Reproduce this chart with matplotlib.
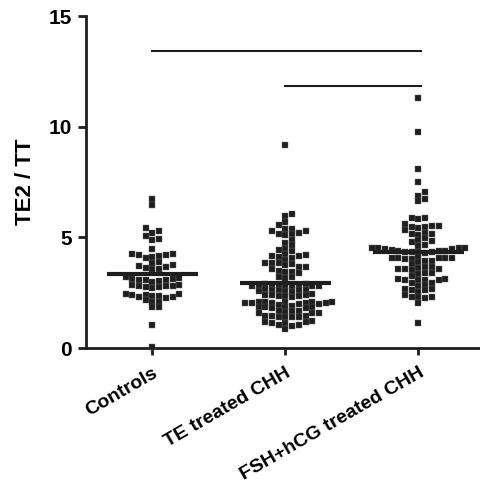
import numpy as np
import matplotlib
matplotlib.use("Agg")
import matplotlib.pyplot as plt
import matplotlib.transforms as mtransforms

plt.rcParams['font.family'] = ['Liberation Sans', 'DejaVu Sans']
plt.rcParams['font.weight'] = 'bold'

# values (TE2 / TT ratio per subject)
groups = ['Controls', 'TE treated CHH', 'FSH+hCG treated CHH']

controls = [6.75, 6.45, 5.42, 5.27, 5.20, 5.04, 4.92, 4.86, 4.47,
            4.26, 4.22, 4.10, 4.06, 4.15, 4.20, 4.26,
            3.87, 3.76, 3.66, 3.56, 3.56, 3.61, 3.72, 3.84,
            3.11, 3.05, 3.02, 3.00, 3.20, 3.11, 3.05, 3.05, 3.16,
            2.78, 2.70, 2.78, 2.85, 2.85, 2.75, 2.75, 2.82,
            2.40, 2.40, 2.32, 2.25, 2.30, 2.36, 2.36, 2.43, 2.43,
            2.10, 2.17, 2.10, 1.84, 1.84, 1.04, 0.06]

te_treated = [9.15, 6.06, 5.95, 5.69, 5.57, 5.39, 5.30, 5.39, 5.30, 5.20, 5.15, 5.09, 5.15,
              4.89, 4.74, 4.49, 4.39, 4.44, 4.64, 4.24, 4.14, 4.06, 4.09, 4.14, 4.21, 3.99,
              3.84, 3.84, 3.73, 3.79, 3.84, 3.64, 3.58, 3.64, 3.46, 3.43, 3.38, 3.43,
              3.23, 3.16, 3.19,
              2.90, 2.85, 2.78, 2.82, 2.80, 2.85, 2.78, 2.82, 2.88, 2.80, 2.85,
              2.62, 2.58, 2.66, 2.60, 2.55, 2.62, 2.58, 2.64,
              2.36, 2.40, 2.32, 2.38, 2.45, 2.34, 2.40, 2.36,
              2.10, 2.03, 2.05, 1.98, 2.08, 2.03, 1.95, 2.06, 2.10, 2.00, 2.04, 2.08, 2.02,
              1.84, 1.87, 1.80, 1.84, 1.88, 1.82, 1.86,
              1.65, 1.60, 1.57, 1.62, 1.65, 1.69, 1.58,
              1.42, 1.45, 1.40, 1.44, 1.42, 1.38, 1.45,
              1.19, 1.15, 1.21, 1.17, 1.12,
              1.04, 1.00, 1.06, 0.85]

fsh_hcg = [11.3, 9.75, 8.10, 7.49, 7.04, 6.89, 6.74, 6.63, 5.88, 5.83, 5.88,
           5.62, 5.50, 5.47, 5.42, 5.47, 5.53,
           5.31, 5.17, 5.12, 5.20, 5.17,
           4.97, 4.77, 4.82, 4.86,
           4.62, 4.52, 4.47, 4.47, 4.52, 4.52, 4.52, 4.67, 4.41,
           4.35, 4.38, 4.33, 4.30, 4.36, 4.32, 4.34, 4.37,
           4.06, 4.08, 4.04, 4.06, 4.10, 4.03, 4.05, 4.08,
           3.81, 3.87, 3.91, 3.95,
           3.68, 3.61, 3.56, 3.53, 3.56, 3.56, 3.68,
           3.38, 3.35, 3.38, 3.26,
           3.05, 3.11, 3.08, 3.05, 3.11, 3.05,
           2.93, 2.85, 2.78, 2.93,
           2.63, 2.55, 2.66, 2.60, 2.66,
           2.32, 2.25, 2.40, 2.32, 2.32,
           2.03, 1.15]

# significance bars: (y level, from group, to group)
sig_bars = [(13.43, 1, 3), (11.84, 2, 3)]

data = [controls, te_treated, fsh_hcg]
ink = '#1e1e1e'

fig = plt.figure(figsize=(4.81, 4.91), dpi=100)
ax = fig.add_axes([86 / 481, 1 - 348 / 491, 1 - 86 / 481, 332 / 491])
ax.set_xlim(0.5, 3.47)
ax.set_ylim(0, 15)


def swarm_x(values, center, step=6.7, ygap=5.0):
    # simple beeswarm in pixel space, columns on a fixed grid
    vals = np.asarray(values, dtype=float)
    pts = ax.transData.transform(np.column_stack([np.full(len(vals), center), vals]))
    xs = np.zeros(len(vals))
    placed = []
    for i in np.argsort(vals):
        y = pts[i, 1]
        for k in [0] + [s * n for n in range(1, 20) for s in (1, -1)]:
            x = pts[i, 0] + k * step
            if all(not (abs(x - px) < step * 0.9 and abs(y - py) < ygap) for px, py in placed):
                break
        placed.append((x, y))
        xs[i] = x
    return ax.transData.inverted().transform(np.column_stack([xs, pts[:, 1]]))[:, 0]


for pos, vals in enumerate(data, start=1):
    xs = swarm_x(vals, pos)
    ax.scatter(xs, vals, marker='s', s=14, color=ink, edgecolors='#666666',
               linewidths=0.3, clip_on=False, zorder=3)
    m = np.mean(vals)
    ax.plot([pos - 0.34, pos + 0.34], [m, m], color=ink, lw=3, zorder=4,
            solid_capstyle='butt')

for y, a, b in sig_bars:
    ax.plot([a - 0.015, b + 0.03], [y, y], color=ink, lw=1.5, solid_capstyle='butt')

for side in ['top', 'right']:
    ax.spines[side].set_visible(False)
for side in ['left', 'bottom']:
    ax.spines[side].set_linewidth(2)
    ax.spines[side].set_color(ink)

ax.set_yticks([0, 5, 10, 15])
ax.set_xticks([1, 2, 3])
ax.set_xticklabels(groups, rotation=30, ha='right', rotation_mode='anchor',
                   fontsize=14, fontweight='bold')
shift = mtransforms.ScaledTranslation(-5 / 100, 0, fig.dpi_scale_trans)
for lab in ax.get_xticklabels():
    lab.set_transform(lab.get_transform() + shift)
ax.tick_params(axis='y', length=6, width=2, color=ink, labelsize=15, pad=4)
ax.tick_params(axis='x', length=5, width=2, color=ink, pad=7)
ax.set_ylabel('TE2 / TT', fontsize=16, fontweight='bold', labelpad=9)

plt.savefig('out.png', dpi=100)
